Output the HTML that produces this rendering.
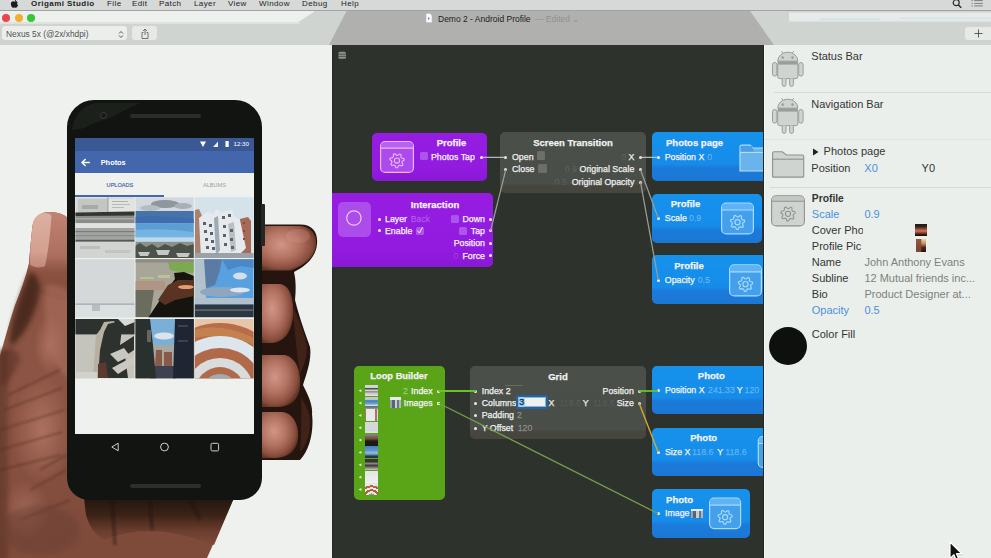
<!DOCTYPE html>
<html><head><meta charset="utf-8">
<style>
*{margin:0;padding:0;box-sizing:border-box}
html,body{width:991px;height:558px;overflow:hidden;background:#eef1ed;font-family:"Liberation Sans",sans-serif}
body{position:relative}
.a{position:absolute}
.t{position:absolute;white-space:nowrap;line-height:1}
.pur{background:linear-gradient(#961ce2 0%,#931be0 70%,#8a18d6 100%)}
.gry{background:linear-gradient(to top,#46463e 0,#46463e 8px,#4a4e48 9px,#4b4f49 100%)}
.blu{background:linear-gradient(#1592ec 0%,#168cea 65%,#1b7bda 73%,#1b77d6 100%)}
.grn{background:#5aa517}
.nd{border-radius:5px}
.w{color:#f6f2f8}
.cv .t{-webkit-text-stroke:0.25px currentColor}
</style></head><body>

<div class="a" style="left:0;top:0;width:991px;height:10px;background:#d6d9d7"></div>
<svg class="a" style="left:9.8px;top:-1.3px" width="9.5" height="10.5" viewBox="0 0 9 10"><path d="M4.5 2.6C5.3 2 6.6 2.1 7.4 3.1 6.4 3.7 6.5 5.3 7.7 5.8 7.3 7 6.5 8.4 5.6 8.4 5 8.4 4.9 8 4.3 8 3.7 8 3.5 8.4 2.9 8.4 1.9 8.4 0.8 6.4 0.8 4.7 0.8 3 1.9 2.2 2.9 2.2 3.6 2.2 4 2.7 4.5 2.6Z M4.6 2.1C4.6 1.2 5.3 0.5 6 0.4 6.1 1.3 5.4 2.1 4.6 2.1Z" fill="#1a1c1b"/></svg>
<span class="t" style="left:31px;top:-0.1px;font-size:8px;letter-spacing:0.45px;color:#222423;font-weight:bold;">Origami Studio</span>
<span class="t" style="left:107px;top:-0.1px;font-size:8px;letter-spacing:0.4px;color:#222423;">File</span>
<span class="t" style="left:132px;top:-0.1px;font-size:8px;letter-spacing:0.4px;color:#222423;">Edit</span>
<span class="t" style="left:159px;top:-0.1px;font-size:8px;letter-spacing:0.4px;color:#222423;">Patch</span>
<span class="t" style="left:194px;top:-0.1px;font-size:8px;letter-spacing:0.4px;color:#222423;">Layer</span>
<span class="t" style="left:228px;top:-0.1px;font-size:8px;letter-spacing:0.4px;color:#222423;">View</span>
<span class="t" style="left:259px;top:-0.1px;font-size:8px;letter-spacing:0.4px;color:#222423;">Window</span>
<span class="t" style="left:302px;top:-0.1px;font-size:8px;letter-spacing:0.4px;color:#222423;">Debug</span>
<span class="t" style="left:341px;top:-0.1px;font-size:8px;letter-spacing:0.4px;color:#222423;">Help</span>
<svg class="a" style="left:950px;top:0" width="40" height="10"><circle cx="6.2" cy="2.7" r="3" fill="none" stroke="#2a2c2b" stroke-width="1.2"/><path d="M8.4 5L11.2 7.8" stroke="#2a2c2b" stroke-width="1.5"/><path d="M24.2 0.6H32.8M24.2 3.4H32.8M24.2 5.9H32.8M21.6 0.6H22.8M21.6 3.4H22.8M21.6 5.9H22.8" stroke="#7a7e7c" stroke-width="1"/></svg>
<div class="a" style="left:0;top:10px;width:991px;height:1px;background:#9fa4a3"></div>
<div class="a" style="left:0;top:11px;width:991px;height:34px;background:#cfd4d1"></div>
<svg class="a" style="left:0;top:11px" width="991" height="34">
<polygon points="0,0 315,0 298,11.5 0,11.5" fill="#eef0ed"/><rect x="0" y="11.5" width="300" height="1.5" fill="#dfe3df"/>
<path d="M346.5 0H750L774 34H329Z" fill="#b0b1ae"/>
<rect x="789" y="1.5" width="202" height="9" fill="#e6eae8"/><rect x="820" y="7.5" width="60" height="1.5" fill="#d2dfe8"/><rect x="900" y="6.5" width="91" height="1.5" fill="#d6e2ea"/><rect x="789" y="9.5" width="202" height="1" fill="#dce4e8"/>
</svg>
<div class="a" style="left:2px;top:13.5px;width:8px;height:8px;border-radius:50%;background:#e9474a"></div>
<div class="a" style="left:14.5px;top:13.5px;width:8px;height:8px;border-radius:50%;background:#f0b12e"></div>
<div class="a" style="left:27px;top:13.5px;width:8px;height:8px;border-radius:50%;background:#35c63c"></div>
<div class="a" style="left:2px;top:26px;width:125px;height:13.5px;border-radius:3px;background:#eceeec"></div>
<span class="t" style="left:6px;top:30px;font-size:8.4px;color:#505251">Nexus 5x (@2x/xhdpi)</span>
<svg class="a" style="left:118px;top:29.5px" width="6" height="9" viewBox="0 0 6 9"><path d="M1 3.5L3 1.5 5 3.5M1 5.5L3 7.5 5 5.5" fill="none" stroke="#555" stroke-width="1"/></svg>
<div class="a" style="left:132.2px;top:26px;width:25.2px;height:13.5px;border-radius:3px;background:#e6e9e6"></div>
<svg class="a" style="left:139.8px;top:27.5px" width="10" height="12" viewBox="0 0 10 12"><path d="M3.5 4.5H2V10.5H8V4.5H6.5M5 1V7M3 3L5 1 7 3" fill="none" stroke="#666" stroke-width="0.9"/></svg>
<svg class="a" style="left:425px;top:13px" width="8" height="10" viewBox="0 0 8 10"><path d="M1 0.5H5L7 2.5V9.5H1Z" fill="#fff" stroke="#bbb" stroke-width="0.6"/><path d="M3 4L5 5.5 3 7Z" fill="#5a8fd0"/></svg>
<span class="t" style="left:438px;top:14.6px;font-size:8.5px;color:#222">Demo 2 - Android Profile</span>
<span class="t" style="left:535px;top:14.6px;font-size:8.5px;color:#8f9190">— Edited ⌄</span>
<div class="a" style="left:965px;top:26.5px;width:26px;height:13px;border-radius:3px 0 0 3px;background:#e6e9e6"></div>
<svg class="a" style="left:974px;top:29px" width="9" height="9"><path d="M4.5 0.5V8.5M0.5 4.5H8.5" stroke="#4a4c4b" stroke-width="0.9"/></svg>
<div class="a" style="left:0;top:45px;width:332px;height:513px;background:#eef1ed;overflow:hidden"><div class="a" style="left:0;top:-45px;width:991px;height:558px">
<svg class="a" style="left:0;top:0" width="332" height="558">
<defs>
<linearGradient id="hg" x1="0" y1="0" x2="0.3" y2="1">
<stop offset="0" stop-color="#8a5242"/><stop offset="0.5" stop-color="#8c5444"/><stop offset="1" stop-color="#7e4a3a"/>
</linearGradient>
<linearGradient id="th" x1="0" y1="0" x2="0" y2="1">
<stop offset="0" stop-color="#c08474"/><stop offset="0.5" stop-color="#ac6e5e"/><stop offset="0.68" stop-color="#8c5242"/><stop offset="1" stop-color="#80493a"/>
</linearGradient>
<linearGradient id="nail" x1="0" y1="0" x2="0" y2="1">
<stop offset="0" stop-color="#dcb0a2"/><stop offset="0.7" stop-color="#d4a090"/><stop offset="1" stop-color="#c08878"/>
</linearGradient>
<linearGradient id="bot" x1="0" y1="0" x2="0" y2="1">
<stop offset="0" stop-color="#24160e"/><stop offset="0.35" stop-color="#3a2216"/><stop offset="0.7" stop-color="#6a3e2e"/><stop offset="1" stop-color="#7e4a3a"/>
</linearGradient>
<radialGradient id="fp" cx="0.4" cy="0.42" r="0.62">
<stop offset="0" stop-color="#d29686"/><stop offset="0.5" stop-color="#b27262"/><stop offset="0.85" stop-color="#8a4e3e"/><stop offset="1" stop-color="#603424"/>
</radialGradient>
<filter id="blr" x="-30%" y="-30%" width="160%" height="160%"><feGaussianBlur stdDeviation="2.5"/></filter>
<filter id="blr1" x="-30%" y="-30%" width="160%" height="160%"><feGaussianBlur stdDeviation="1"/></filter>
<radialGradient id="hl" cx="0.5" cy="0.5" r="0.5">
<stop offset="0" stop-color="#b07464" stop-opacity="0.9"/><stop offset="1" stop-color="#b07464" stop-opacity="0"/>
</radialGradient>
</defs>
<!-- palm / thumb silhouette -->
<path d="M70 221C66 214.5 58 212 50 212C41 212 34 216.5 32.5 226C31 240 30 251 29 263C26 276 21 290 15 305C10 320 5 338 0 356V558H207L233 500H120V230H70Z" fill="url(#hg)"/>
<!-- thumb -->
<path d="M70 221C66 214.5 58 212 50 212C41 212 34 216.5 32.5 226C31 240 30 251 29 263C28 272 30 282 40 292C52 300 64 300 70 300Z" fill="url(#th)"/>
<path d="M32.5 226C33.5 217 38.5 213 45 213C48.5 213 50.5 214 51.5 216C50.5 232 48.5 250 45 266C40.5 268.5 34 267.5 30 264.5C30 251 31 238 32.5 226Z" fill="url(#nail)"/>
<!-- highlights -->
<ellipse cx="42" cy="430" rx="30" ry="55" fill="url(#hl)"/>
<ellipse cx="50" cy="345" rx="16" ry="30" fill="url(#hl)"/>
<ellipse cx="25" cy="510" rx="25" ry="30" fill="url(#hl)" opacity="0.7"/>
<!-- dark patches & creases -->
<path d="M30 272C36 274 40 280 40 290C38 305 32 320 24 332C19 339 14 344 10 346C9 335 13 318 18 303C22 290 26 280 30 272Z" fill="#3e2016" opacity="0.8" filter="url(#blr)"/>
<path d="M46 285C56 283 66 288 72 294V380C62 376 52 360 48 340C45 320 44 300 46 285Z" fill="#ac6e5e" opacity="0.6" filter="url(#blr)"/>
<path d="M3 350C10 345 18 350 20 360C14 375 6 385 0 388V356Z" fill="#5a3226" opacity="0.6" filter="url(#blr)"/>
<path d="M8 395L60 370M4 410L62 388M0 430L64 410M0 450L62 432M0 470L60 455" stroke="#54301f" stroke-width="1.8" fill="none" opacity="0.55" filter="url(#blr1)"/>
<path d="M40 470L66 455M30 490L66 470M20 520L70 500" stroke="#5a3426" stroke-width="2.4" fill="none" opacity="0.5" filter="url(#blr1)"/>
<rect x="-6" y="350" width="14" height="210" fill="#4e2a1e" opacity="0.45" filter="url(#blr)"/>
<ellipse cx="40" cy="530" rx="40" ry="25" fill="#6a4034" opacity="0.5" filter="url(#blr)"/>
<!-- shadow under phone -->
<path d="M84 498H234L214 545Q150 520 105 540Q92 535 86 515Z" fill="url(#bot)"/>
<path d="M112 500L115 545M150 502L152 530M190 500L200 520" stroke="#1a100a" stroke-width="2.5" fill="none" opacity="0.5" filter="url(#blr1)"/>
<!-- right fingers: dark base -->
<path d="M258 224.5H300C314 224.5 318 234 317 244C316 257 306 266 294 272C296 280 296 290 295 300C300 320 306 335 310 347C312 360 306 375 303 385C308 395 313 405 312 414C314 430 310 450 300 460H258Z" fill="#26150e"/>
<path d="M292 305C300 322 305 335 307 347C307 358 303 368 300 374C297 358 295 330 292 305Z" fill="#4a2a1e" opacity="0.7"/>
<path d="M301 398C306 405 310 413 310 422C310 436 306 446 300 452C301 438 302 412 301 398Z" fill="#4a2a1e" opacity="0.7"/>
<!-- finger pads -->
<path d="M258 226H298C312 226 317 235 316 245C315 257 304 266 290 270.5H258Z" fill="url(#fp)"/>
<path d="M258 284H280C291 286 294 300 293 316C292 332 284 342 272 343H258Z" fill="url(#fp)"/>
<path d="M258 355H285C297 358 301 372 300 386C299 400 290 407 277 407H258Z" fill="url(#fp)"/>
<path d="M258 412H283C294 414 299 426 298 438C297 450 289 457 277 458H258Z" fill="url(#fp)"/>
<ellipse cx="298" cy="236" rx="12" ry="7" fill="#d8a090" opacity="0.25"/>
</svg>
<div class="a" style="left:67.3px;top:100px;width:194.9px;height:400.3px;background:#111411;border-radius:27px 27px 22px 22px"></div>
<svg class="a" style="left:0;top:0;overflow:visible" width="1" height="1"><path d="M72 130Q75 108 95 103H140Q125 110 110 118Q95 122 85 128Z" fill="#1d211d" opacity="0.9"/></svg>
<div class="a" style="left:260.5px;top:204px;width:4px;height:42px;background:#232823;border-radius:1px"></div>
<div class="a" style="left:130.4px;top:114.3px;width:70.6px;height:4px;background:#2a2d2a;border-radius:2px"></div>
<div class="a" style="left:99.6px;top:112.4px;width:7px;height:7px;background:#171a17;border:1.2px solid #3a3d3a;border-radius:50%"></div>
<div class="a" style="left:130px;top:483.5px;width:70.5px;height:4px;background:#2c2f2c;border-radius:2px"></div>
<div class="a" style="left:75px;top:138.3px;width:178.6px;height:296.2px;background:#eef1ed;overflow:hidden"><div class="a" style="left:-75px;top:-138.3px;width:332px;height:558px">
<div class="a " style="left:75px;top:138.3px;width:178.6px;height:12.599999999999994px;background:#395894"></div>
<div class="a " style="left:75px;top:150.9px;width:178.6px;height:22.599999999999994px;background:#4366ad"></div>
<svg class="a" style="left:0;top:0;overflow:visible" width="1" height="1">
<path d="M200 141.5H206L203 147Z" fill="#fff"/>
<path d="M213 147H218V141.5Z" fill="#fff" opacity="0.9"/>
<rect x="225.5" y="141" width="3.2" height="6" fill="#fff" rx="0.4"/>
</svg>
<span class="t" style="top:141.31px;font-size:6.2px;left:233.50px;color:#fff;">12:30</span>
<svg class="a" style="left:0;top:0;overflow:visible" width="1" height="1"><path d="M89.8 162.5H82.3M85.6 159L82 162.5 85.6 166" stroke="#fff" stroke-width="1.4" fill="none"/></svg>
<span class="t" style="top:159.24px;font-size:7.4px;left:100.70px;font-weight:bold;color:#fff;">Photos</span>
<span class="t" style="top:182.76px;font-size:5.6px;left:106.60px;color:#4262a6;-webkit-text-stroke:0.15px #4262a6;">UPLOADS</span>
<span class="t" style="top:182.76px;font-size:5.6px;left:203.00px;color:#9a9ea8;">ALBUMS</span>
<div class="a " style="left:75px;top:195.4px;width:89px;height:1.4000000000000057px;background:#4366ad"></div>
<svg class="a" style="left:0;top:0" width="332" height="558">
<defs>
<clipPath id="c11"><rect x="75.4" y="197.2" width="59.1" height="60.9"/></clipPath>
<clipPath id="c12"><rect x="135.6" y="197.2" width="58.1" height="60.9"/></clipPath>
<clipPath id="c13"><rect x="194.8" y="197.2" width="58.8" height="60.9"/></clipPath>
<clipPath id="c21"><rect x="75.4" y="259.2" width="59.1" height="58.1"/></clipPath>
<clipPath id="c22"><rect x="135.6" y="259.2" width="58.1" height="58.1"/></clipPath>
<clipPath id="c23"><rect x="194.8" y="259.2" width="58.8" height="58.1"/></clipPath>
<clipPath id="c31"><rect x="75.4" y="319" width="59.1" height="59.2"/></clipPath>
<clipPath id="c32"><rect x="135.6" y="319" width="58.1" height="59.2"/></clipPath>
<clipPath id="c33"><rect x="194.8" y="319" width="58.8" height="59.2"/></clipPath>
<linearGradient id="sky32" x1="0" y1="0" x2="0" y2="1"><stop offset="0" stop-color="#6aa2dc"/><stop offset="0.6" stop-color="#c8d8e8"/><stop offset="1" stop-color="#a8b0b0"/></linearGradient>
</defs>
<g clip-path="url(#c11)">
<rect x="75" y="197" width="60" height="62" fill="#d6d8d6"/>
<rect x="78" y="199" width="29" height="13" fill="#c4c6c4"/><rect x="82" y="205" width="16" height="4" fill="#a8aaa8"/>
<rect x="107.3" y="197" width="1" height="15" fill="#9a9c9a"/>
<rect x="109" y="199" width="25" height="12" fill="#e2e4e2"/><rect x="112" y="201" width="16" height="1" fill="#b0b2b0"/><rect x="112" y="204" width="18" height="1" fill="#b8bab8"/><rect x="112" y="207" width="12" height="1" fill="#b8bab8"/>
<path d="M75 212.5L135 211.5V215.8L75 216Z" fill="#323632"/>
<rect x="75" y="216" width="60" height="7.2" fill="#8a8c8a"/>
<rect x="75" y="218" width="60" height="1.5" fill="#a8aaa8"/>
<rect x="75" y="223.2" width="60" height="4.8" fill="#e0e2e0"/>
<rect x="75" y="228" width="60" height="11.6" fill="#a2a4a2"/>
<rect x="75" y="231" width="60" height="1.2" fill="#7a7c7a"/><rect x="75" y="235" width="60" height="1.2" fill="#8a8c8a"/>
<rect x="75" y="239.6" width="60" height="2.2" fill="#565856"/>
<rect x="75" y="241.8" width="60" height="17" fill="#d2d4d2"/>
<rect x="80" y="246" width="20" height="3" fill="#bcbebc"/><rect x="105" y="250" width="25" height="3" fill="#c2c4c2"/>
</g>
<g clip-path="url(#c12)">
<rect x="135" y="197" width="59" height="62" fill="#d2d8de"/>
<ellipse cx="165" cy="204" rx="14" ry="4" fill="#8e969e"/><ellipse cx="150" cy="208" rx="10" ry="3" fill="#b4bcc4"/><ellipse cx="183" cy="206" rx="9" ry="3" fill="#a8b0b8"/>
<rect x="135" y="211" width="59" height="12.2" fill="#4674a8"/>
<path d="M135 217Q160 215 194 219V223.2H135Z" fill="#3e6cae"/>
<rect x="135" y="223.2" width="59" height="14.2" fill="#5c9ed2"/>
<path d="M135 230Q165 228 194 232V237.4H135Z" fill="#74b4e2"/>
<rect x="135" y="237.4" width="59" height="4.4" fill="#bcd8ec"/>
<rect x="135" y="241.8" width="59" height="17" fill="#8a908a"/>
<path d="M135 246L140 243 146 247 152 244 158 248 165 244 172 247 180 243 187 246 194 244V259H135Z" fill="#4a524a"/>
<path d="M138 252H150L148 256H140ZM156 250H170L168 255H158ZM176 253H190L188 257H178Z" fill="#c4c8c4"/>
</g>
<g clip-path="url(#c13)">
<rect x="194" y="197" width="60" height="62" fill="#d4e2ea"/>
<path d="M194.8 210L199 209 202 216V259H194.8Z" fill="#a8826e"/>
<path d="M240 219L248 217 251 221V259H238Z" fill="#a86a58"/>
<path d="M199 218L207 212 214 214 216 209 222 213 226 211 232 210 234 216 240 220 246 248 238 256 226 254 218 259H201Z" fill="#e6eaec"/>
<path d="M214 218L218 216 220 250 216 256Z" fill="#a0aab2"/>
<path d="M228 224L234 222 236 250 231 252Z" fill="#b8c0c6"/>
<g fill="#56646f"><rect x="203" y="222" width="3" height="3"/><rect x="209" y="224" width="3" height="3"/><rect x="204" y="230" width="3" height="3"/><rect x="210" y="232" width="3" height="3"/><rect x="205" y="238" width="3" height="3"/><rect x="211" y="240" width="3" height="3"/><rect x="206" y="246" width="3" height="3"/><rect x="212" y="247" width="3" height="3"/>
<rect x="222" y="216" width="3" height="3"/><rect x="228" y="214" width="3" height="3"/><rect x="223" y="225" width="3" height="3"/><rect x="230" y="229" width="3" height="3"/><rect x="223" y="234" width="3" height="3"/><rect x="230" y="238" width="3" height="3"/><rect x="224" y="243" width="3" height="3"/><rect x="231" y="246" width="3" height="3"/>
<rect x="243" y="222" width="2" height="2" fill="#7a5048"/><rect x="243" y="230" width="2" height="2" fill="#7a5048"/><rect x="243" y="238" width="2" height="2" fill="#7a5048"/></g>
<rect x="194" y="253" width="60" height="6" fill="#9aa2a8"/>
</g>
<g clip-path="url(#c21)">
<rect x="75" y="259" width="60" height="59" fill="#d4d8d8"/>
<rect x="75" y="303.5" width="60" height="1.2" fill="#a2a8aa"/>
<rect x="75" y="305" width="60" height="13" fill="#dadfe0"/>
<rect x="92" y="305" width="8" height="6" fill="#b8bec0"/>
</g>
<g clip-path="url(#c22)">
<rect x="135" y="259" width="59" height="59" fill="#a8a698"/>
<rect x="135" y="259" width="59" height="3.5" fill="#8c8c82"/>
<path d="M168 262H194V273L180 272 170 270Z" fill="#7fa852"/>
<rect x="140" y="277" width="14" height="2" fill="#b4c488"/>
<rect x="158" y="275" width="12" height="3" fill="#c0c098"/>
<rect x="135" y="281" width="30" height="9" fill="#b09484"/>
<path d="M135 290H154L150 317H135Z" fill="#6a6c5e"/>
<path d="M148 318L160 300 168 288 175 279 174 273 184 272 194 276V318Z" fill="#16140f"/>
<path d="M158 300L168 285 178 280 194 280V296L175 300 165 305Z" fill="#5a3422"/>
<ellipse cx="186" cy="287" rx="8" ry="2" fill="#e0a070"/>
</g>
<g clip-path="url(#c23)">
<rect x="194" y="259" width="60" height="59" fill="#58a0e0"/>
<path d="M194 259H206V300H194Z" fill="#b4c2cc"/>
<path d="M204 259H222L220 270 215 285 206 288Z" fill="#5a7ca4"/>
<path d="M222 259H254V268L240 266 228 270Z" fill="#4a88c8"/>
<ellipse cx="240" cy="276" rx="7" ry="3.5" fill="#d4e0e8"/>
<ellipse cx="222" cy="292" rx="22" ry="5" fill="#8ea6c0"/>
<ellipse cx="240" cy="290" rx="10" ry="2.5" fill="#dce6ee"/>
<rect x="194" y="298" width="60" height="6.5" fill="#b0c0cc"/>
<rect x="194" y="304.5" width="60" height="13" fill="#2e3640"/>
<rect x="194" y="309.5" width="60" height="1.2" fill="#6a7888"/>
</g>
<g clip-path="url(#c31)">
<rect x="75" y="319" width="60" height="60" fill="#c4c4bc"/>
<rect x="75" y="319" width="60" height="15.4" fill="#2e322e"/>
<path d="M118 319H135V322L125 326Z" fill="#d8dad8"/>
<path d="M96 335L100 330 104 322 114 321 120 330 118 340 112 350 104 355 100 378H93Z" fill="#b8b0a0"/>
<path d="M104 332L108 324 116 322 122 328 120 345 134 336V350L125 356 128 378H98L100 350Z" fill="#2e322e"/>
<path d="M110 354L124 348 130 356 118 362Z" fill="#c8c8c0"/>
<path d="M112 368L134 356V364L118 374Z" fill="#cac8c0"/>
<path d="M98 364L106 362 108 378H98Z" fill="#5a3a30"/>
<rect x="75" y="372" width="22" height="7" fill="#d2d2ca"/>
</g>
<g clip-path="url(#c32)">
<rect x="135" y="319" width="59" height="60" fill="#2a302e"/>
<path d="M149 319H176L174 366H153Z" fill="#7ab0d8"/>
<ellipse cx="164" cy="336" rx="10" ry="3.5" fill="#dce4ea"/>
<path d="M152 345H175L174 366H154Z" fill="#a8a8a0"/>
<path d="M156 350H162V366H155ZM164 352H172V366H164Z" fill="#8a5a48"/>
<path d="M153 366H174L176 379H150Z" fill="#3c4252"/>
<path d="M135 319H150L153 345 156 379H135Z" fill="#2a302e"/>
<rect x="147" y="330" width="4" height="12" fill="#6a6460"/>
<path d="M175 319H194V379H173Z" fill="#1f2532"/>
<rect x="178" y="325" width="10" height="2" fill="#3a4250"/><rect x="178" y="340" width="10" height="2" fill="#3a4250"/>
</g>
<g clip-path="url(#c33)">
<rect x="194" y="319" width="60" height="60" fill="#e6c6a6"/>
<circle cx="220" cy="392" r="69" fill="#b86c4a"/>
<path d="M194 330Q220 322 254 338V345Q225 332 194 338Z" fill="#c89050" opacity="0.6"/>
<circle cx="220" cy="392" r="56" fill="#dce6ec"/>
<circle cx="220" cy="392" r="44" fill="#b06a4a"/>
<circle cx="220" cy="392" r="34" fill="#d8dcdc"/>
<circle cx="220" cy="392" r="25" fill="#b06a4a"/>
<circle cx="220" cy="392" r="18" fill="#a0aab0"/>
</g>
</svg>
</div></div>
<svg class="a" style="left:0;top:0;overflow:visible" width="1" height="1">
<path d="M118.2 443.2V450.8L111.8 447Z" fill="none" stroke="#cfd1cf" stroke-width="1" stroke-linejoin="round"/>
<circle cx="164.5" cy="447" r="3.9" fill="none" stroke="#cfd1cf" stroke-width="1"/>
<rect x="211" y="443.3" width="7.6" height="7.6" rx="1.2" fill="none" stroke="#cfd1cf" stroke-width="1"/>
</svg>
</div></div>
<div class="a cv" style="left:332px;top:45px;width:432px;height:513px;background:#2e322d;overflow:hidden"><div class="a" style="left:-332px;top:-45px;width:991px;height:558px">
<div class="a " style="left:332px;top:45px;width:1.5px;height:513px;background:#292c28"></div>
<svg class="a" style="left:338px;top:51px" width="9" height="9"><rect x="0.4" y="0.8" width="7.6" height="7" rx="1.6" fill="#8d928d"/><path d="M0 3.2H9M0 5.4H9" stroke="#3a3e39" stroke-width="0.7"/></svg>
<div class="a pur nd" style="left:372px;top:132.5px;width:115px;height:48.5px;"></div>
<svg class="a" style="left:0;top:0;overflow:visible" width="1" height="1"><rect x="380.6" y="141.6" width="32.8" height="30.8" rx="4.5" fill="#ac4aec" stroke="#e9b8ff" stroke-width="1.2"/><path d="M381.2 148.2V145.5Q381.2 142.2 384.5 142.2H409.5Q412.8 142.2 412.8 145.5V148.2Z" fill="#b862f2"/><path d="M380.6 148.2H413.4" stroke="#e9b8ff" stroke-width="1.2"/><polygon points="403.88,158.47 404.18,160.06 402.27,161.39 401.96,162.54 402.95,164.65 401.90,165.87 399.67,165.21 398.57,165.69 397.54,167.78 395.93,167.72 395.06,165.56 394.00,165.00 391.73,165.50 390.77,164.20 391.91,162.17 391.69,161.00 389.88,159.53 390.30,157.97 392.60,157.60 393.37,156.70 393.40,154.37 394.87,153.72 396.60,155.29 397.79,155.33 399.63,153.90 401.05,154.65 400.90,156.97 401.61,157.93" fill="none" stroke="#e9b8ff" stroke-width="1.14" stroke-linejoin="round"/><circle cx="397.0" cy="160.6" r="2.59" fill="none" stroke="#e9b8ff" stroke-width="1.14"/></svg>
<span class="t" style="top:137.92px;font-size:9.5px;left:451.50px;font-weight:bold;color:#f6f2f8;transform:translateX(-50%);">Profile</span>
<div class="a " style="left:420px;top:151.5px;width:8px;height:8.5px;background:#ab55ea;border-radius:1.5px"></div>
<span class="t" style="top:152.56px;font-size:8.8px;left:431.00px;color:#f6f2f8;">Photos Tap</span>
<div class="a" style="left:480.30px;top:155.70px;width:3px;height:3px;border-radius:50%;background:#f6f2f8"></div>
<div class="a pur" style="left:332px;top:193.3px;width:161px;height:73.69999999999999px;border-radius:0 5px 5px 0"></div>
<div class="a " style="left:338px;top:202px;width:33.39999999999998px;height:34.5px;background:#ac4ceb;border-radius:5px"></div>
<svg class="a" style="left:0;top:0;overflow:visible" width="1" height="1"><circle cx="353.9" cy="218" r="7.2" fill="none" stroke="#f3c8ff" stroke-width="1.2"/></svg>
<span class="t" style="top:200.12px;font-size:9.5px;left:435.00px;font-weight:bold;color:#f6f2f8;transform:translateX(-50%);">Interaction</span>
<div class="a" style="left:377.70px;top:217.50px;width:3px;height:3px;border-radius:50%;background:#f6f2f8"></div>
<div class="a" style="left:377.70px;top:229.40px;width:3px;height:3px;border-radius:50%;background:#f6f2f8"></div>
<span class="t" style="top:214.76px;font-size:8.8px;left:385.00px;color:#f6f2f8;">Layer</span>
<span class="t" style="top:214.76px;font-size:8.8px;left:410.70px;color:rgba(255,255,255,0.22);">Back</span>
<div class="a " style="left:450.5px;top:214.5px;width:8.100000000000023px;height:8.0px;background:#ab55ea;border-radius:1.5px"></div>
<span class="t" style="top:214.76px;font-size:8.8px;right:506.00px;color:#f6f2f8;">Down</span>
<span class="t" style="top:226.56px;font-size:8.8px;left:385.00px;color:#f6f2f8;">Enable</span>
<div class="a " style="left:415.5px;top:226.5px;width:8.100000000000023px;height:8.0px;background:#ab55ea;border-radius:1.5px"></div>
<svg class="a" style="left:0;top:0;overflow:visible" width="1" height="1"><path d="M417.3 230.6L419.4 233 422.6 227.2" fill="none" stroke="#f6eefa" stroke-width="1"/></svg>
<div class="a " style="left:458.6px;top:226.5px;width:8.0px;height:8.0px;background:#ab55ea;border-radius:1.5px"></div>
<span class="t" style="top:226.56px;font-size:8.8px;right:506.00px;color:#f6f2f8;">Tap</span>
<span class="t" style="top:239.46px;font-size:8.8px;right:506.00px;color:#f6f2f8;">Position</span>
<span class="t" style="top:251.56px;font-size:8.8px;right:532.50px;color:rgba(255,255,255,0.14);">0</span>
<span class="t" style="top:251.56px;font-size:8.8px;right:506.00px;color:#f6f2f8;">Force</span>
<div class="a" style="left:489.10px;top:217.50px;width:3px;height:3px;border-radius:50%;background:#f6f2f8"></div>
<div class="a" style="left:489.10px;top:229.30px;width:3px;height:3px;border-radius:50%;background:#f6f2f8"></div>
<div class="a" style="left:489.10px;top:242.20px;width:3px;height:3px;border-radius:50%;background:#f6f2f8"></div>
<div class="a" style="left:489.10px;top:254.30px;width:3px;height:3px;border-radius:50%;background:#f6f2f8"></div>
<div class="a gry nd" style="left:500px;top:132px;width:146px;height:61.30000000000001px;"></div>
<span class="t" style="top:137.92px;font-size:9.5px;left:573.00px;font-weight:bold;color:#f2f2f2;transform:translateX(-50%);">Screen Transition</span>
<div class="a" style="left:504.30px;top:156.00px;width:3px;height:3px;border-radius:50%;background:#e8e8e8"></div>
<div class="a" style="left:504.30px;top:168.20px;width:3px;height:3px;border-radius:50%;background:#e8e8e8"></div>
<span class="t" style="top:153.06px;font-size:8.8px;left:512.00px;color:#f0f0f0;">Open</span>
<div class="a " style="left:536.7px;top:151.3px;width:8.299999999999955px;height:9.0px;background:#6b6f69;border-radius:1.5px"></div>
<span class="t" style="top:165.26px;font-size:8.8px;left:512.00px;color:#f0f0f0;">Close</span>
<div class="a " style="left:538.3px;top:164px;width:8.400000000000091px;height:8.800000000000011px;background:#6b6f69;border-radius:1.5px"></div>
<span class="t" style="top:153.06px;font-size:8.8px;right:364.50px;color:rgba(255,255,255,0.1);">0</span>
<span class="t" style="top:153.06px;font-size:8.8px;right:356.70px;color:#f0f0f0;">X</span>
<span class="t" style="top:165.26px;font-size:8.8px;right:414.00px;color:rgba(255,255,255,0.1);">0.9</span>
<span class="t" style="top:165.26px;font-size:8.8px;right:356.70px;color:#f0f0f0;">Original Scale</span>
<span class="t" style="top:177.56px;font-size:8.8px;right:424.00px;color:rgba(255,255,255,0.09);">0.5</span>
<span class="t" style="top:177.56px;font-size:8.8px;right:356.70px;color:#f0f0f0;">Original Opacity</span>
<div class="a" style="left:639.00px;top:155.80px;width:3px;height:3px;border-radius:50%;background:#e8e8e8"></div>
<div class="a" style="left:639.00px;top:168.20px;width:3px;height:3px;border-radius:50%;background:#e8e8e8"></div>
<div class="a" style="left:639.00px;top:180.50px;width:3px;height:3px;border-radius:50%;background:#e8e8e8"></div>
<div class="a blu nd" style="left:652px;top:132.3px;width:123px;height:49.099999999999994px;"></div>
<span class="t" style="top:138.12px;font-size:9.5px;left:666.00px;font-weight:bold;color:#f6f2f8;">Photos page</span>
<div class="a" style="left:656.50px;top:155.50px;width:3px;height:3px;border-radius:50%;background:#f6f2f8"></div>
<span class="t" style="top:152.66px;font-size:8.8px;left:664.70px;color:#f6f2f8;">Position X</span>
<span class="t" style="top:152.66px;font-size:8.8px;left:707.30px;color:rgba(255,255,255,0.28);">0</span>
<svg class="a" style="left:0;top:0;overflow:visible" width="1" height="1"><path d="M740 171V147Q740 145 742 145H750L753 148H775V171Z" fill="#6ab4ee" stroke="#b0e0ff" stroke-width="1.2"/><path d="M740 152.5H775" stroke="#b0e0ff" stroke-width="1.2"/><path d="M740.5 146H752L754 151.5H740.5Z" fill="#4c9ee8"/></svg>
<div class="a blu nd" style="left:652px;top:194px;width:110.29999999999995px;height:48.69999999999999px;"></div>
<span class="t" style="top:199.42px;font-size:9.5px;left:685.50px;font-weight:bold;color:#f6f2f8;transform:translateX(-50%);">Profile</span>
<div class="a" style="left:656.80px;top:216.90px;width:3px;height:3px;border-radius:50%;background:#f6f2f8"></div>
<span class="t" style="top:214.06px;font-size:8.8px;left:664.80px;color:#f6f2f8;">Scale</span>
<span class="t" style="top:214.06px;font-size:8.8px;left:689.00px;color:rgba(255,255,255,0.28);">0.9</span>
<svg class="a" style="left:0;top:0;overflow:visible" width="1" height="1"><rect x="721.6" y="203.1" width="31.8" height="30.8" rx="4.5" fill="#45a0ec" stroke="#a6dcff" stroke-width="1.2"/><path d="M722.2 210.0V207.0Q722.2 203.7 725.5 203.7H749.5Q752.8 203.7 752.8 207.0V210.0Z" fill="#5fb2f4"/><path d="M721.6 210.0H753.4" stroke="#a6dcff" stroke-width="1.2"/><polygon points="744.38,220.12 744.68,221.71 742.77,223.04 742.46,224.19 743.45,226.30 742.40,227.52 740.17,226.86 739.07,227.34 738.04,229.43 736.43,229.37 735.56,227.21 734.50,226.65 732.23,227.15 731.27,225.85 732.41,223.82 732.19,222.65 730.38,221.18 730.80,219.62 733.10,219.25 733.87,218.35 733.90,216.02 735.37,215.37 737.10,216.94 738.29,216.98 740.13,215.55 741.55,216.30 741.40,218.62 742.11,219.58" fill="none" stroke="#a6dcff" stroke-width="1.14" stroke-linejoin="round"/><circle cx="737.5" cy="222.25" r="2.59" fill="none" stroke="#a6dcff" stroke-width="1.14"/></svg>
<div class="a blu nd" style="left:652px;top:255.2px;width:123px;height:48.80000000000001px;"></div>
<span class="t" style="top:261.22px;font-size:9.5px;left:689.00px;font-weight:bold;color:#f6f2f8;transform:translateX(-50%);">Profile</span>
<div class="a" style="left:656.80px;top:278.50px;width:3px;height:3px;border-radius:50%;background:#f6f2f8"></div>
<span class="t" style="top:275.66px;font-size:8.8px;left:664.80px;color:#f6f2f8;">Opacity</span>
<span class="t" style="top:275.66px;font-size:8.8px;left:697.70px;color:rgba(255,255,255,0.28);">0.5</span>
<svg class="a" style="left:0;top:0;overflow:visible" width="1" height="1"><rect x="729.6" y="264.90000000000003" width="31.8" height="31.000000000000004" rx="4.5" fill="#45a0ec" stroke="#a6dcff" stroke-width="1.2"/><path d="M730.2 271.8V268.8Q730.2 265.5 733.5 265.5H757.5Q760.8 265.5 760.8 268.8V271.8Z" fill="#5fb2f4"/><path d="M729.6 271.8H761.4" stroke="#a6dcff" stroke-width="1.2"/><polygon points="752.42,282.01 752.72,283.60 750.80,284.94 750.49,286.10 751.49,288.23 750.43,289.46 748.18,288.79 747.08,289.27 746.05,291.37 744.43,291.31 743.55,289.14 742.48,288.58 740.19,289.08 739.23,287.78 740.38,285.73 740.15,284.55 738.34,283.08 738.75,281.51 741.07,281.13 741.85,280.22 741.87,277.88 743.36,277.23 745.10,278.80 746.29,278.85 748.14,277.40 749.58,278.16 749.43,280.50 750.14,281.47" fill="none" stroke="#a6dcff" stroke-width="1.14" stroke-linejoin="round"/><circle cx="745.5" cy="284.15000000000003" r="2.61" fill="none" stroke="#a6dcff" stroke-width="1.14"/></svg>
<div class="a grn nd" style="left:354px;top:366px;width:91px;height:134.3px;"></div>
<span class="t" style="top:371.92px;font-size:9.3px;left:399.00px;font-weight:bold;color:#f6f2f8;transform:translateX(-50%);">Loop Builder</span>
<div class="a " style="left:365.4px;top:384.6px;width:12.800000000000011px;height:11.799999999999955px;background:linear-gradient(#d6d6d4,#cfcfcd 25%,#3e3e3c 30%,#8a8a88 40%,#d0d0ce 50%,#8e8e8c 60%,#d2d2d0 80%,#e0e0de)"></div>
<svg class="a" style="left:0;top:0;overflow:visible" width="1" height="1"><path d="M358.6 390.70L361.4 389.30V392.10Z" fill="#e6f3dc"/></svg>
<div class="a " style="left:365.4px;top:396.95px;width:12.800000000000011px;height:11.800000000000011px;background:linear-gradient(#c6cad0,#bcc2ca 25%,#4a78b0 30%,#62a2d8 55%,#d2dde6 72%,#5c645c 80%,#9ea29e)"></div>
<svg class="a" style="left:0;top:0;overflow:visible" width="1" height="1"><path d="M358.6 403.05L361.4 401.65V404.45Z" fill="#e6f3dc"/></svg>
<div class="a " style="left:365.4px;top:409.3px;width:12.800000000000011px;height:11.800000000000011px;background:linear-gradient(90deg,#b07060 0 10%,#e6e8ea 10% 75%,#b27262 75% 92%,#cddde8 92%)"></div>
<svg class="a" style="left:0;top:0;overflow:visible" width="1" height="1"><path d="M358.6 415.40L361.4 414.00V416.80Z" fill="#e6f3dc"/></svg>
<div class="a " style="left:365.4px;top:421.65px;width:12.800000000000011px;height:11.800000000000011px;background:linear-gradient(#d4d8d8 0 72%,#a2a8aa 74%,#dadfe0 78%)"></div>
<svg class="a" style="left:0;top:0;overflow:visible" width="1" height="1"><path d="M358.6 427.75L361.4 426.35V429.15Z" fill="#e6f3dc"/></svg>
<div class="a " style="left:365.4px;top:434.0px;width:12.800000000000011px;height:11.800000000000011px;background:linear-gradient(#8c8a7c,#6e4e3c 40%,#1e1a14 60%,#1e1a14)"></div>
<svg class="a" style="left:0;top:0;overflow:visible" width="1" height="1"><path d="M358.6 440.10L361.4 438.70V441.50Z" fill="#e6f3dc"/></svg>
<div class="a " style="left:365.4px;top:446.35px;width:12.800000000000011px;height:11.799999999999955px;background:linear-gradient(#3e82c8,#5c9ad4 40%,#a6b6c6 55%,#5c9ad4 70%,#2c343e 85%)"></div>
<svg class="a" style="left:0;top:0;overflow:visible" width="1" height="1"><path d="M358.6 452.45L361.4 451.05V453.85Z" fill="#e6f3dc"/></svg>
<div class="a " style="left:365.4px;top:458.7px;width:12.800000000000011px;height:11.800000000000011px;background:linear-gradient(#353532 0 25%,#8a8880 40%,#3e3836 60%,#9a968e 85%,#cac6be)"></div>
<svg class="a" style="left:0;top:0;overflow:visible" width="1" height="1"><path d="M358.6 464.80L361.4 463.40V466.20Z" fill="#e6f3dc"/></svg>
<div class="a " style="left:365.4px;top:471.05px;width:12.800000000000011px;height:11.800000000000011px;background:linear-gradient(#e4e6e6,#eef0f0)"></div>
<svg class="a" style="left:0;top:0;overflow:visible" width="1" height="1"><path d="M358.6 477.15L361.4 475.75V478.55Z" fill="#e6f3dc"/></svg>
<div class="a " style="left:365.4px;top:483.4px;width:12.800000000000011px;height:11.800000000000011px;background:radial-gradient(circle at 50% 120%,#8a98a2 0 4px,#e4e6e6 4px 6px,#b0603a 6px 8px,#e8eaea 8px 10px,#b4643e 10px 12px,#e6e8e8 12px)"></div>
<svg class="a" style="left:0;top:0;overflow:visible" width="1" height="1"><path d="M358.6 489.50L361.4 488.10V490.90Z" fill="#e6f3dc"/></svg>
<span class="t" style="top:386.96px;font-size:8.8px;right:583.00px;color:rgba(255,255,255,0.35);">2</span>
<span class="t" style="top:386.96px;font-size:8.8px;right:558.40px;color:#f6f2f8;">Index</span>
<div class="a " style="left:389.5px;top:396.9px;width:11.699999999999989px;height:11.100000000000023px;background:linear-gradient(#e6eaec 0 25%,transparent 25%),linear-gradient(90deg,#9aa4ac 0 20%,#5a6470 20% 45%,#c8ced2 45% 65%,#6a7682 65% 85%,#b0b8be 85%)"></div>
<span class="t" style="top:398.66px;font-size:8.8px;right:558.40px;color:#f6f2f8;">Images</span>
<div class="a" style="left:436.80px;top:389.50px;width:3px;height:3px;border-radius:50%;background:#f6f2f8"></div>
<div class="a " style="left:436.8px;top:401.5px;width:3.0px;height:3.0px;background:#e8f0e0"></div>
<div class="a gry nd" style="left:470px;top:366px;width:176px;height:72.69999999999999px;"></div>
<span class="t" style="top:371.72px;font-size:9.5px;left:558.00px;font-weight:bold;color:#f2f2f2;transform:translateX(-50%);">Grid</span>
<div class="a" style="left:474.30px;top:389.50px;width:3px;height:3px;border-radius:50%;background:#e8e8e8"></div>
<div class="a" style="left:474.30px;top:401.50px;width:3px;height:3px;border-radius:50%;background:#e8e8e8"></div>
<div class="a" style="left:474.30px;top:414.20px;width:3px;height:3px;border-radius:50%;background:#e8e8e8"></div>
<div class="a" style="left:474.30px;top:426.50px;width:3px;height:3px;border-radius:50%;background:#e8e8e8"></div>
<span class="t" style="top:386.66px;font-size:8.8px;left:481.70px;color:#f0f0f0;">Index 2</span>
<span class="t" style="top:398.66px;font-size:8.8px;left:481.70px;color:#f0f0f0;">Columns</span>
<span class="t" style="top:411.36px;font-size:8.8px;left:481.70px;color:#f0f0f0;">Padding</span>
<span class="t" style="top:411.36px;font-size:8.8px;left:517.00px;color:rgba(255,255,255,0.3);">2</span>
<span class="t" style="top:423.66px;font-size:8.8px;left:481.70px;color:#f0f0f0;">Y Offset</span>
<span class="t" style="top:423.66px;font-size:8.8px;left:517.70px;color:rgba(255,255,255,0.3);">120</span>
<div class="a " style="left:516.2px;top:394.5px;width:31.5px;height:14.699999999999989px;background:#eef1ee;border:2px solid #27639a;border-radius:2px;box-shadow:inset 0 0 0 1px #7fb6e6"></div>
<div class="a " style="left:518.5px;top:397px;width:6.0px;height:10px;background:#9fd0f4;border-radius:1px"></div>
<span class="t" style="top:398.06px;font-size:8.8px;left:519.20px;color:#13233a;">3</span>
<span class="t" style="top:398.66px;font-size:8.8px;left:548.60px;color:#f0f0f0;">X</span>
<span class="t" style="top:398.66px;font-size:8.8px;left:559.50px;color:rgba(255,255,255,0.08);">118.6</span>
<span class="t" style="top:398.66px;font-size:8.8px;left:582.70px;color:#f0f0f0;">Y</span>
<span class="t" style="top:398.66px;font-size:8.8px;left:593.00px;color:rgba(255,255,255,0.08);">118.6</span>
<span class="t" style="top:386.66px;font-size:8.8px;right:357.20px;color:#f0f0f0;">Position</span>
<span class="t" style="top:398.66px;font-size:8.8px;right:357.20px;color:#f0f0f0;">Size</span>
<div class="a" style="left:637.50px;top:389.50px;width:3px;height:3px;border-radius:50%;background:#e8e8e8"></div>
<div class="a" style="left:637.50px;top:401.50px;width:3px;height:3px;border-radius:50%;background:#e8e8e8"></div>
<div class="a " style="left:505px;top:385.2px;width:18px;height:1.0px;background:#5e7356"></div>
<div class="a blu nd" style="left:652px;top:366px;width:123px;height:48px;"></div>
<span class="t" style="top:371.42px;font-size:9.5px;left:711.30px;font-weight:bold;color:#f6f2f8;transform:translateX(-50%);">Photo</span>
<div class="a" style="left:656.70px;top:389.30px;width:3px;height:3px;border-radius:50%;background:#f6f2f8"></div>
<span class="t" style="top:386.46px;font-size:8.8px;left:664.90px;color:#f6f2f8;">Position X</span>
<span class="t" style="top:386.46px;font-size:8.8px;left:708.00px;color:rgba(255,255,255,0.28);">241.33</span>
<span class="t" style="top:386.46px;font-size:8.8px;left:736.80px;color:#f6f2f8;">Y</span>
<span class="t" style="top:386.46px;font-size:8.8px;left:744.50px;color:rgba(255,255,255,0.28);">120</span>
<div class="a blu nd" style="left:652px;top:428px;width:123px;height:48px;"></div>
<span class="t" style="top:433.42px;font-size:9.5px;left:703.70px;font-weight:bold;color:#f6f2f8;transform:translateX(-50%);">Photo</span>
<div class="a" style="left:656.70px;top:450.70px;width:3px;height:3px;border-radius:50%;background:#f6f2f8"></div>
<span class="t" style="top:447.86px;font-size:8.8px;left:665.00px;color:#f6f2f8;">Size X</span>
<span class="t" style="top:447.86px;font-size:8.8px;left:692.00px;color:rgba(255,255,255,0.28);">118.6</span>
<span class="t" style="top:447.86px;font-size:8.8px;left:717.30px;color:#f6f2f8;">Y</span>
<span class="t" style="top:447.86px;font-size:8.8px;left:725.20px;color:rgba(255,255,255,0.28);">118.6</span>
<svg class="a" style="left:0;top:0;overflow:visible" width="1" height="1"><rect x="758.3000000000001" y="436.6" width="31.8" height="30.8" rx="4.5" fill="#45a0ec" stroke="#a6dcff" stroke-width="1.2"/><path d="M758.9000000000001 443.5V440.5Q758.9000000000001 437.2 762.2 437.2H786.2Q789.5 437.2 789.5 440.5V443.5Z" fill="#5fb2f4"/><path d="M758.3000000000001 443.5H790.1" stroke="#a6dcff" stroke-width="1.2"/><polygon points="781.08,453.62 781.38,455.21 779.47,456.54 779.16,457.69 780.15,459.80 779.10,461.02 776.87,460.36 775.77,460.84 774.74,462.93 773.13,462.87 772.26,460.71 771.20,460.15 768.93,460.65 767.97,459.35 769.11,457.32 768.89,456.15 767.08,454.68 767.50,453.12 769.80,452.75 770.57,451.85 770.60,449.52 772.07,448.87 773.80,450.44 774.99,450.48 776.83,449.05 778.25,449.80 778.10,452.12 778.81,453.08" fill="none" stroke="#a6dcff" stroke-width="1.14" stroke-linejoin="round"/><circle cx="774.2" cy="455.75" r="2.59" fill="none" stroke="#a6dcff" stroke-width="1.14"/></svg>
<div class="a blu nd" style="left:652px;top:489.4px;width:97.5px;height:48.60000000000002px;"></div>
<span class="t" style="top:494.72px;font-size:9.5px;left:679.50px;font-weight:bold;color:#f6f2f8;transform:translateX(-50%);">Photo</span>
<div class="a" style="left:656.70px;top:512.10px;width:3px;height:3px;border-radius:50%;background:#f6f2f8"></div>
<span class="t" style="top:509.26px;font-size:8.8px;left:665.00px;color:#f6f2f8;">Image</span>
<div class="a " style="left:691.4px;top:509.3px;width:11.600000000000023px;height:9.199999999999989px;background:linear-gradient(#e6eaec 0 25%,transparent 25%),linear-gradient(90deg,#9aa4ac 0 20%,#5a6470 20% 45%,#c8ced2 45% 65%,#6a7682 65% 85%,#b0b8be 85%)"></div>
<svg class="a" style="left:0;top:0;overflow:visible" width="1" height="1"><rect x="709.6" y="498.20000000000005" width="31.000000000000004" height="30.400000000000002" rx="4.5" fill="#45a0ec" stroke="#a6dcff" stroke-width="1.2"/><path d="M710.2 505.1V502.1Q710.2 498.8 713.5 498.8H736.7Q740.0 498.8 740.0 502.1V505.1Z" fill="#5fb2f4"/><path d="M709.6 505.1H740.6" stroke="#a6dcff" stroke-width="1.2"/><polygon points="731.89,515.05 732.19,516.61 730.30,517.93 730.00,519.07 730.98,521.15 729.94,522.36 727.73,521.70 726.65,522.18 725.64,524.24 724.05,524.18 723.18,522.05 722.14,521.50 719.89,521.99 718.95,520.71 720.07,518.70 719.85,517.55 718.07,516.10 718.48,514.56 720.75,514.19 721.52,513.30 721.54,511.00 723.00,510.36 724.70,511.90 725.88,511.95 727.69,510.53 729.10,511.27 728.95,513.57 729.65,514.52" fill="none" stroke="#a6dcff" stroke-width="1.14" stroke-linejoin="round"/><circle cx="725.1" cy="517.15" r="2.56" fill="none" stroke="#a6dcff" stroke-width="1.14"/></svg>
<svg class="a" style="left:0;top:0" width="991" height="558">
<g fill="none" stroke-width="1">
<path d="M482 157.3H506" stroke="#d8d8d8"/>
<path d="M490.6 230.8L505.8 169.7" stroke="#9a9e98" stroke-width="1.25"/>
<path d="M640.5 157.3H658" stroke="#d8d8d8"/>
<path d="M640.5 169.7L658.3 218.4" stroke="#9a9e98" stroke-width="1.25"/>
<path d="M640.5 182L658.3 280" stroke="#9a9e98" stroke-width="1.25"/>
<path d="M438.3 391H475.8" stroke="#66c424" stroke-width="1.8"/>
<path d="M438.3 403L658.2 513.6" stroke="#7a9c4a" stroke-width="1.3"/>
<path d="M639 391H658.2" stroke="#66c424" stroke-width="1.8"/>
<path d="M639 403L658.2 452.2" stroke="#d4a832" stroke-width="1.4"/>
</g></svg>
</div></div>
<div class="a" style="left:763px;top:45px;width:1.2px;height:513px;background:#222823"></div>
<div class="a" style="left:764px;top:45px;width:227px;height:513px;background:#ebefeb;border-left:1px solid #f4f6f4"></div>
<svg class="a" style="left:770.8px;top:50.4px;overflow:visible" width="34" height="38" viewBox="-1 -1 34 38"><path d="M9.4 0L11.5 3M21.8 0L19.7 3" stroke="#9a9e9b" stroke-width="0.9"/><path d="M5.7 10.2A10.1 9 0 0 1 25.9 10.2Z" fill="#d0d4d1" stroke="#9a9e9b" stroke-width="1"/><circle cx="10.7" cy="6.6" r="1.3" fill="#9a9e9b"/><circle cx="20.5" cy="6.6" r="1.3" fill="#9a9e9b"/><rect x="5.7" y="10.2" width="20.2" height="2.9" fill="#9a9e9b"/><path d="M5.7 13.1H25.9V25.6Q25.9 27.6 23.9 27.6H7.7Q5.7 27.6 5.7 25.6Z" fill="#d0d4d1" stroke="#9a9e9b" stroke-width="1"/><rect x="0.5" y="11.5" width="4.4" height="13.6" rx="2.2" fill="#d0d4d1" stroke="#9a9e9b" stroke-width="1"/><rect x="26.7" y="11.5" width="4.4" height="13.6" rx="2.2" fill="#d0d4d1" stroke="#9a9e9b" stroke-width="1"/><path d="M10.2 27.6V33.4Q10.2 35.4 12.1 35.4Q14 35.4 14 33.4V27.6M17.6 27.6V33.4Q17.6 35.4 19.5 35.4Q21.4 35.4 21.4 33.4V27.6" fill="#d0d4d1" stroke="#9a9e9b" stroke-width="1"/></svg>
<svg class="a" style="left:770.8px;top:97.4px;overflow:visible" width="34" height="38" viewBox="-1 -1 34 38"><path d="M9.4 0L11.5 3M21.8 0L19.7 3" stroke="#9a9e9b" stroke-width="0.9"/><path d="M5.7 10.2A10.1 9 0 0 1 25.9 10.2Z" fill="#d0d4d1" stroke="#9a9e9b" stroke-width="1"/><circle cx="10.7" cy="6.6" r="1.3" fill="#9a9e9b"/><circle cx="20.5" cy="6.6" r="1.3" fill="#9a9e9b"/><rect x="5.7" y="10.2" width="20.2" height="2.9" fill="#9a9e9b"/><path d="M5.7 13.1H25.9V25.6Q25.9 27.6 23.9 27.6H7.7Q5.7 27.6 5.7 25.6Z" fill="#d0d4d1" stroke="#9a9e9b" stroke-width="1"/><rect x="0.5" y="11.5" width="4.4" height="13.6" rx="2.2" fill="#d0d4d1" stroke="#9a9e9b" stroke-width="1"/><rect x="26.7" y="11.5" width="4.4" height="13.6" rx="2.2" fill="#d0d4d1" stroke="#9a9e9b" stroke-width="1"/><path d="M10.2 27.6V33.4Q10.2 35.4 12.1 35.4Q14 35.4 14 33.4V27.6M17.6 27.6V33.4Q17.6 35.4 19.5 35.4Q21.4 35.4 21.4 33.4V27.6" fill="#d0d4d1" stroke="#9a9e9b" stroke-width="1"/></svg>
<span class="t" style="top:51.29px;font-size:11px;left:811.30px;color:#333534;">Status Bar</span>
<span class="t" style="top:98.69px;font-size:11px;left:811.30px;color:#333534;">Navigation Bar</span>
<div class="a " style="left:774px;top:92px;width:217px;height:1px;background:#d7dbd8"></div>
<div class="a " style="left:764px;top:138.5px;width:227px;height:0.6999999999999886px;background:#e0e4e1"></div>
<svg class="a" style="left:0;top:0;overflow:visible" width="1" height="1">
<path d="M772.6 176.6V153Q772.6 151.7 774 151.7H782.3L786.4 155H802.3Q803.7 155 803.7 156.4V176.6Q803.7 177.1 803.2 177.1H773.1Q772.6 177.1 772.6 176.6Z" fill="#d0d4d1" stroke="#8e928f" stroke-width="1.1"/>
<path d="M772.6 159.2H803.7" stroke="#8e928f" stroke-width="1.1"/>
</svg>
<svg class="a" style="left:811.5px;top:147.5px" width="7" height="8"><path d="M1 0.5L6.5 4 1 7.5Z" fill="#222"/></svg>
<span class="t" style="top:145.89px;font-size:11px;left:823.60px;color:#333534;">Photos page</span>
<span class="t" style="top:163.09px;font-size:11px;left:811.30px;color:#333534;">Position</span>
<span class="t" style="top:163.09px;font-size:11px;left:864.30px;color:#4a8fdc;">X0</span>
<span class="t" style="top:163.09px;font-size:11px;left:921.60px;color:#333534;">Y0</span>
<div class="a " style="left:770px;top:187px;width:221px;height:1px;background:#d7dbd8"></div>
<svg class="a" style="left:0;top:0;overflow:visible" width="1" height="1"><rect x="771.6" y="195.79999999999998" width="32.8" height="30.1" rx="4.5" fill="#d0d4d1" stroke="#8e928f" stroke-width="1.1"/><path d="M772.2 201.2V199.7Q772.2 196.39999999999998 775.5 196.39999999999998H800.5Q803.8 196.39999999999998 803.8 199.7V201.2Z" fill="#c4c8c5"/><path d="M771.6 201.2H804.4" stroke="#8e928f" stroke-width="1.1"/><polygon points="794.88,211.72 795.18,213.31 793.27,214.64 792.96,215.79 793.95,217.90 792.90,219.12 790.67,218.46 789.57,218.94 788.54,221.03 786.93,220.97 786.06,218.81 785.00,218.25 782.73,218.75 781.77,217.45 782.91,215.42 782.69,214.25 780.88,212.78 781.30,211.22 783.60,210.85 784.37,209.95 784.40,207.62 785.87,206.97 787.60,208.54 788.79,208.58 790.63,207.15 792.05,207.90 791.90,210.22 792.61,211.18" fill="none" stroke="#8e928f" stroke-width="1.045" stroke-linejoin="round"/><circle cx="788.0" cy="213.85" r="2.59" fill="none" stroke="#8e928f" stroke-width="1.045"/></svg>
<span class="t" style="top:194.18px;font-size:10.3px;left:811.80px;font-weight:bold;color:#333534;">Profile</span>
<span class="t" style="top:209.29px;font-size:11px;left:811.80px;color:#4a8fdc;">Scale</span>
<span class="t" style="top:209.29px;font-size:11px;left:864.40px;color:#4a8fdc;">0.9</span>
<span class="t" style="top:225.29px;font-size:11px;left:811.80px;color:#333534;">Cover Pho</span>
<span class="t" style="top:240.99px;font-size:11px;left:811.80px;color:#333534;">Profile Pic</span>
<div class="a " style="left:863.3px;top:222px;width:16.700000000000045px;height:30px;background:#ebefeb"></div>
<div class="a " style="left:914.9px;top:223.8px;width:11.899999999999977px;height:12.199999999999989px;background:linear-gradient(#1c1c1a 0%,#2e2420 22%,#9a4a34 42%,#d07458 58%,#8a3a28 75%,#1a1210 92%)"></div>
<div class="a " style="left:915.9px;top:239.1px;width:9.800000000000068px;height:12.900000000000006px;background:linear-gradient(90deg,rgba(138,74,56,.9) 0 45%,transparent 60%),linear-gradient(#f0d890 0%,#c89060 35%,#4a2a1c 65%,#1e1410 100%)"></div>
<span class="t" style="top:257.19px;font-size:11px;left:811.80px;color:#333534;">Name</span>
<span class="t" style="top:257.19px;font-size:11px;left:864.40px;color:#7d817e;">John Anthony Evans</span>
<span class="t" style="top:273.09px;font-size:11px;left:811.80px;color:#333534;">Subline</span>
<span class="t" style="top:273.09px;font-size:11px;left:864.40px;color:#7d817e;">12 Mutual friends inc...</span>
<span class="t" style="top:288.99px;font-size:11px;left:811.80px;color:#333534;">Bio</span>
<span class="t" style="top:288.99px;font-size:11px;left:864.40px;color:#7d817e;">Product Designer at...</span>
<span class="t" style="top:304.99px;font-size:11px;left:811.80px;color:#4a8fdc;">Opacity</span>
<span class="t" style="top:304.99px;font-size:11px;left:864.40px;color:#4a8fdc;">0.5</span>
<div class="a" style="left:769px;top:327.4px;width:38px;height:38px;border-radius:50%;background:#0d100d"></div>
<span class="t" style="top:328.99px;font-size:11px;left:811.80px;color:#333534;">Color Fill</span>
<svg class="a" style="left:948px;top:539.5px;overflow:visible" width="16" height="22" viewBox="0 0 16 22"><path d="M2.6 2.8V19.3L6.5 15.5 9 21.4 11.6 20.3 9.1 14.5H14.3Z" fill="#000" opacity="0.18" transform="translate(0.6,0.8)"/><path d="M2 2V18.5L5.9 14.7 8.4 20.6 11 19.5 8.5 13.7H13.7Z" fill="#111" stroke="#fff" stroke-width="1.2" stroke-linejoin="round"/></svg>
</body></html>
